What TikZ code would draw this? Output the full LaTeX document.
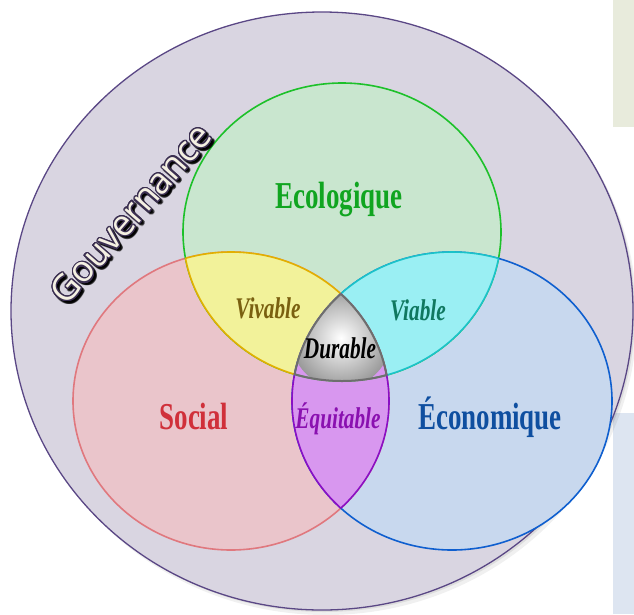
\documentclass[tikz,border=0pt]{standalone}
\usepackage{fontspec}
\setmainfont{Liberation Serif}
\newfontfamily\condserif[FakeStretch=0.71]{Liberation Serif}
\newfontfamily\gouvfont{Open Sans}
\usepackage{contour}
\contournumber{24}
\definecolor{bgl}{HTML}{D9D5E1}
\definecolor{bigst}{HTML}{5A4785}
\definecolor{gfill}{HTML}{C9E6CF}
\definecolor{gst}{HTML}{1DC12A}
\definecolor{rfill}{HTML}{EAC5CB}
\definecolor{rst}{HTML}{E0787E}
\definecolor{bfill}{HTML}{C8D8EE}
\definecolor{bst}{HTML}{0F5FCF}
\definecolor{yfill}{HTML}{F2F29A}
\definecolor{yst}{HTML}{E2B000}
\definecolor{cfill}{HTML}{9AEFF3}
\definecolor{cst}{HTML}{1BC3C9}
\definecolor{vfill}{HTML}{D897EF}
\definecolor{vst}{HTML}{8A0FC4}
\definecolor{dst}{HTML}{6E6E6E}
\definecolor{ecoc}{HTML}{10A520}
\definecolor{socc}{HTML}{D0303A}
\definecolor{econc}{HTML}{0F4FA0}
\definecolor{vivc}{HTML}{7A6010}
\definecolor{viac}{HTML}{107860}
\definecolor{equc}{HTML}{8A10B0}
\definecolor{gcream}{HTML}{F4F0E2}
\definecolor{gdark}{HTML}{3A2E50}
\definecolor{boxa}{HTML}{E8EBDC}
\definecolor{boxb}{HTML}{DDE5F1}
\tikzset{
  pBig/.style={insert path={(322,311) ellipse [x radius=311pt, y radius=299pt]}},
  pG/.style={insert path={(342,232) ellipse [x radius=159pt, y radius=149pt]}},
  pR/.style={insert path={(231,401) ellipse [x radius=158pt, y radius=149pt]}},
  pB/.style={insert path={(452,401) ellipse [x radius=160pt, y radius=149pt]}},
  ring/.style={line width=1.6pt},
  big/.style={font=\condserif\bfseries\fontsize{38}{38}\selectfont, anchor=base, inner sep=0pt},
  small/.style={font=\condserif\bfseries\itshape\fontsize{30}{30}\selectfont, anchor=base, inner sep=0pt},
}
\begin{document}
\begin{tikzpicture}[x=1pt,y=-1pt]
\useasboundingbox (0,0) rectangle (634,614);
% side boxes
\fill[boxb] (613,413) rectangle (634,614);
\fill[boxa] (613,0) rectangle (634,127);
% big circle with soft shadow
\fill[black,opacity=0.06] (326,316) ellipse [x radius=311pt, y radius=299pt];
\fill[black,opacity=0.08] (324,313) ellipse [x radius=311pt, y radius=299pt];
\fill[bgl, pBig];
\draw[bigst, line width=1.3pt, pBig];
% circle fills
\fill[rfill, pR];
\fill[gfill, pG];
\fill[bfill, pB];
\draw[rst, ring, pR];
\draw[gst, ring, pG];
\draw[bst, ring, pB];
% lens fills
\begin{scope}\clip[pG]; \fill[yfill, pR]; \end{scope}
\begin{scope}\clip[pG]; \fill[cfill, pB]; \end{scope}
\begin{scope}\clip[pR]; \fill[vfill, pB]; \end{scope}
% lens strokes
\begin{scope}\clip[pG]; \draw[yst, ring, pR]; \draw[cst, ring, pB]; \end{scope}
\begin{scope}\clip[pR]; \draw[yst, ring, pG]; \draw[vst, ring, pB]; \end{scope}
\begin{scope}\clip[pB]; \draw[cst, ring, pG]; \draw[vst, ring, pR]; \end{scope}
% durable
\begin{scope}\clip[pG]; \clip[pR]; \clip[pB]; \shade[inner color=white, outer color=black!40] (341,338) circle (50pt); \end{scope}
\begin{scope}\clip[pG]; \clip[pR]; \draw[dst, line width=2pt, pB]; \end{scope}
\begin{scope}\clip[pG]; \clip[pB]; \draw[dst, line width=2pt, pR]; \end{scope}
\begin{scope}\clip[pR]; \clip[pB]; \draw[dst, line width=2pt, pG]; \end{scope}
% labels
\node[big, text=ecoc] (eco) at (339,208) {Ecologique};
\node[big, text=socc] (soc) at (194,429) {Social};
\node[big, text=econc] (econ) at (490,429) {Économique};
\node[small, text=vivc] (viv) at (268,318) {Vivable};
\node[small, text=viac] (via) at (418,320) {Viable};
\node[small, text=black] (dur) at (340,358) {Durable};
\node[small, text=equc] (equ) at (338,428) {Équitable};
% gouvernance
\node[rotate=49, font=\gouvfont\fontsize{36}{36}\selectfont, inner sep=0pt, opacity=0.25] (gshadow) at (133.5,216.5) {\contourlength{1.6pt}\contour{black}{\textcolor{black}{Gouvernance}}};
\node[rotate=49, font=\gouvfont\fontsize{36}{36}\selectfont, inner sep=0pt] (gouv) at (131,214) {\contourlength{1.2pt}\contour{gdark}{\textcolor{gcream}{Gouvernance}}};
\end{tikzpicture}
\end{document}
